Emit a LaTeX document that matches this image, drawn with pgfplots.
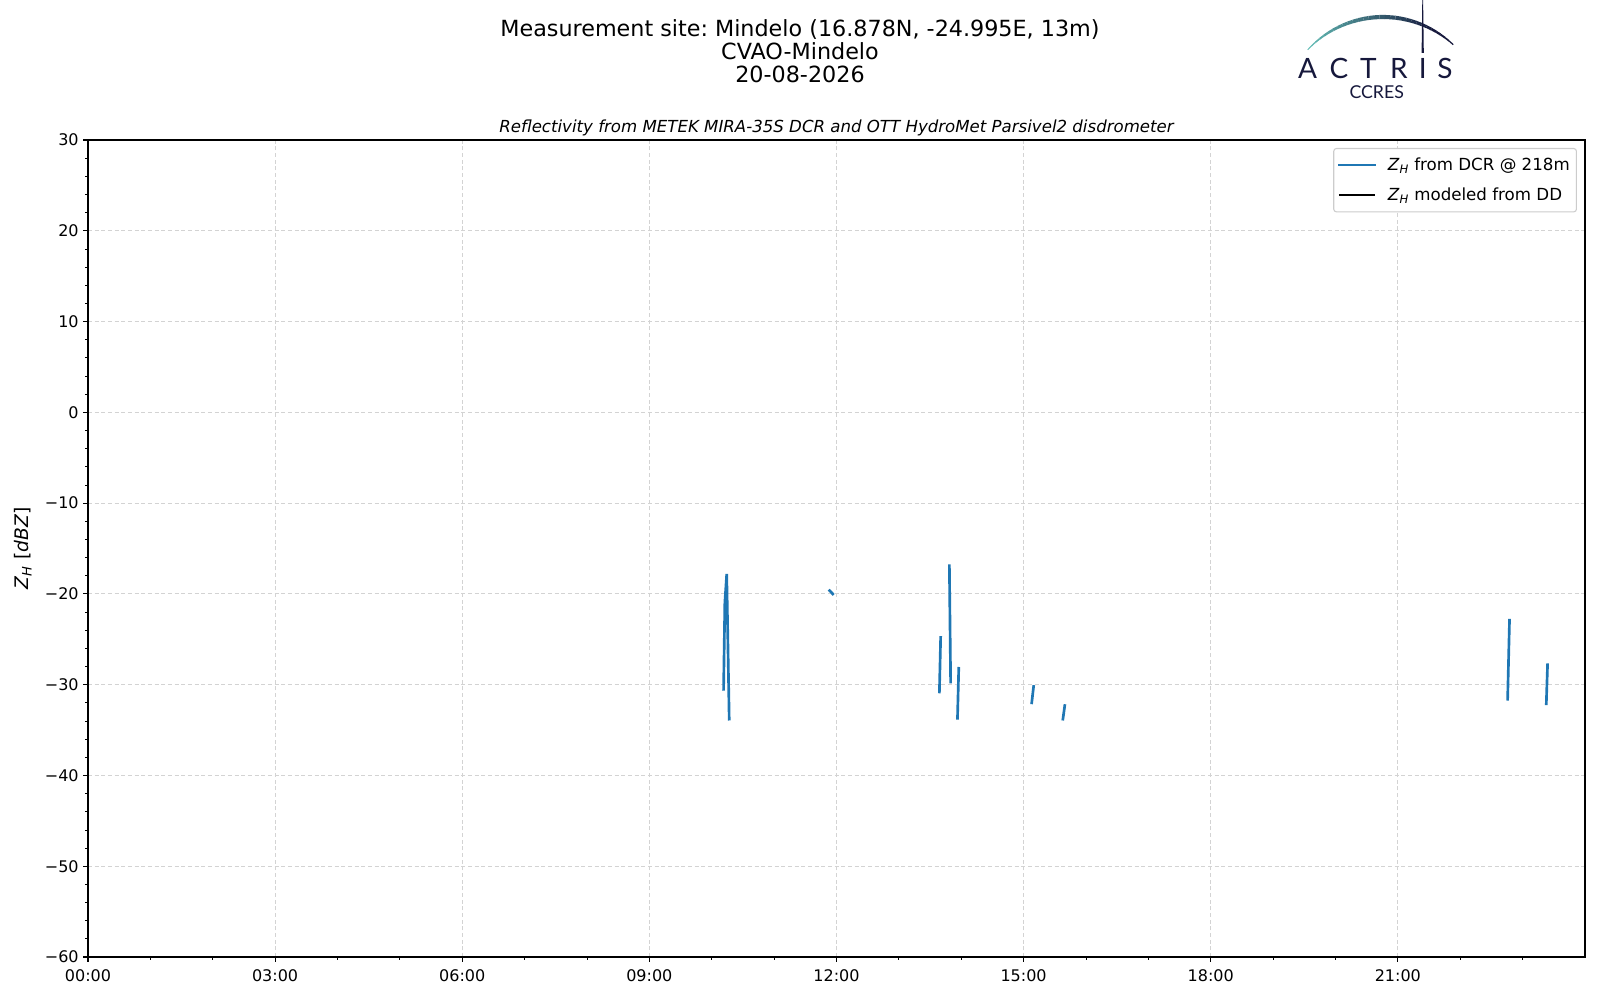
\documentclass[border=0pt]{standalone}
\usepackage{fontspec}
\setmainfont{DejaVu Sans}
\newfontfamily\logofont{Lato}
\usepackage{pgfplots}
\pgfplotsset{compat=1.18}
\frenchspacing

\definecolor{mplblue}{HTML}{1F77B4}
\definecolor{gridgray}{HTML}{D3D3D3}
\definecolor{logonavy}{HTML}{16183C}
\definecolor{logoteal}{HTML}{62BDB6}

\newcommand{\ZH}{\textit{Z}\textsubscript{\textit{H}}}

\begin{document}
\begin{tikzpicture}
  \begin{axis}[
      at={(0,0)}, anchor=south west,
      scale only axis,
      width=1122.75pt, height=612.75pt,
      xmin=0, xmax=24, ymin=-60, ymax=30,
      xtick={0,3,...,21},
      xticklabels={00:00,03:00,06:00,09:00,12:00,15:00,18:00,21:00},
      minor xtick={1,2,4,5,7,8,10,11,13,14,16,17,19,20,22,23},
      ytick={-60,-50,...,30},
      yticklabels={−60,−50,−40,−30,−20,−10,0,10,20,30},
      minor ytick={-58,-56,...,28},
      xtick pos=bottom, ytick pos=left,
      tick align=outside,
      major tick length=3.5pt, minor tick length=2pt,
      every tick/.style={black, line width=0.8pt},
      minor tick style={black, line width=0.6pt},
      axis line style={line width=0.8pt},
      grid=major,
      major grid style={gridgray, line width=0.8pt, dash pattern=on 3pt off 2pt},
      tick label style={font=\fontsize{12}{14}\selectfont},
      xticklabel style={yshift=-2.5pt},
      title={\itshape Reflectivity from METEK MIRA-35S DCR and OTT HydroMet Parsivel2 disdrometer},
      title style={font=\fontsize{12.45}{14}\selectfont, anchor=base, at={(axis description cs:0.5,1)}, yshift=-0.5pt},
      ylabel={\ZH\ [\textit{dBZ}]},
      ylabel style={font=\fontsize{14}{16}\selectfont, at={(axis description cs:-0.0434,0.5)}, anchor=center},
      legend style={at={(1,1)}, anchor=north east, xshift=-6pt, yshift=-6pt,
        draw=black!20, rounded corners=2pt, line width=0.8pt,
        font=\fontsize{12.5}{15}\selectfont, inner xsep=3pt, inner ysep=5pt,
        row sep=7.5pt, cells={anchor=west},
        /tikz/every odd column/.append style={column sep=7pt}},
      legend image code/.code={\draw[#1] (0pt,0pt) -- (27pt,0pt);},
      legend image post style={line width=1.6pt},
      unbounded coords=jump,
    ]

    \addplot[mplblue, line width=2pt, line cap=rect]
    coordinates {
        (10.19,-30.5) (10.21,-21.0) (10.24,-17.8) (10.28,-33.8) (10.30,nan)
        (11.89,-19.65) (11.94,-20.0) (11.96,nan)
        (13.65,-30.8) (13.67,-24.8) (13.70,nan)
        (13.81,-16.9) (13.83,-29.7) (13.88,nan)
        (13.94,-33.7) (13.96,-28.2) (14.00,nan)
        (15.13,-32.0) (15.16,-30.2) (15.20,nan)
        (15.63,-33.8) (15.66,-32.3) (15.70,nan)
        (22.76,-31.6) (22.79,-22.9) (22.83,nan)
        (23.38,-32.1) (23.40,-27.8)
      };
    \addlegendentry{\ZH\ from DCR @ 218m}
    \addlegendimage{black}
    \addlegendentry{\ZH\ modeled from DD}

  \end{axis}

  % page frame, titles and logo, in pixels of the reference
  \begin{scope}[x=0.75pt, y=0.75pt]
    \path[use as bounding box] (-88,-43) rectangle (1512,957);

    \node[anchor=base, font=\fontsize{16.7}{19}\selectfont] at (712,920)
      {Measurement site: Mindelo (16.878N, -24.995E, 13m)};
    \node[anchor=base, font=\fontsize{16.7}{19}\selectfont] at (712,897) {CVAO-Mindelo};
    \node[anchor=base, font=\fontsize{16.7}{19}\selectfont] at (712,874) {20-08-2026};

    % ACTRIS logo
    \foreach \i in {0,...,29} {
      \pgfmathsetmacro\aa{137-\i*3}
      \pgfmathsetmacro\ab{137-(\i+1)*3}
      \pgfmathsetmacro\pc{min(100,\i*4)}
      \pgfmathsetmacro\lw{0.7+2.4*sin(\i*6)}
      \draw[color=logonavy!\pc!logoteal, line width=\lw pt]
        ({1295+103*cos(\aa)},{837+103*sin(\aa)}) -- ({1295+103*cos(\ab)},{837+103*sin(\ab)});
    }
    \fill[logonavy] (1333.6,904) -- (1335.8,904) -- (1335.1,957) -- (1334.3,957) -- cycle;
    \foreach \xx/\ll in {1219.5/A,1251/C,1280.3/T,1311/R,1334.7/I,1357/S}
      \node[anchor=base, inner sep=0pt, text=logonavy, font=\logofont\fontsize{21}{22}\selectfont] at (\xx,878.5) {\ll};
    \node[anchor=base, inner sep=0pt, text=logonavy, font=\logofont\fontsize{13.3}{15}\selectfont] at (1288.7,858) {CCRES};
  \end{scope}
\end{tikzpicture}
\end{document}
